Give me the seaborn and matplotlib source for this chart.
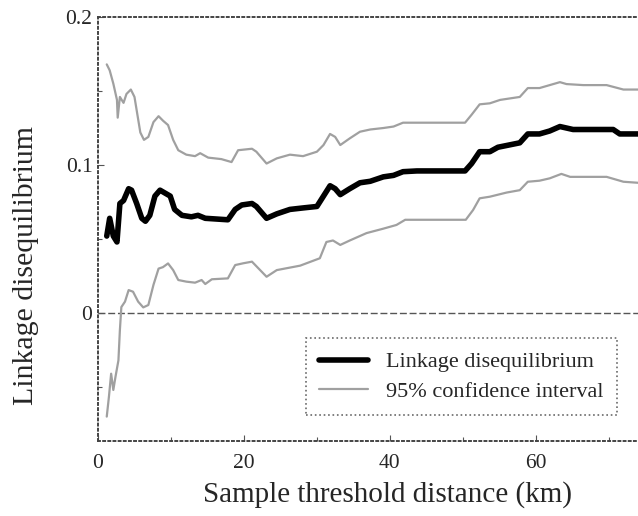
import matplotlib
matplotlib.use("Agg")
import matplotlib.pyplot as plt
import seaborn as sns

# DATA
ld_x = [1.2, 1.6, 2.1, 2.6, 3.0, 3.5, 4.2, 4.6, 5.3, 6.0, 6.5, 7.1, 7.8, 8.5, 9.2, 9.9,
        10.5, 11.5, 12.8, 13.7, 14.7, 17.8, 18.8, 19.7, 21.1, 21.7, 23.1, 24.5, 26.3,
        28.1, 30.0, 30.9, 31.8, 32.5, 33.2, 34.5, 35.9, 37.3, 39.1, 40.5, 41.8, 43.7,
        48.2, 50.3, 51.2, 52.3, 53.7, 54.8, 57.8, 58.9, 60.5, 61.9, 63.3, 65.1, 70.6,
        71.5, 74.0]
ld_y = [0.052, 0.064, 0.052, 0.048, 0.074, 0.076, 0.084, 0.083, 0.074, 0.064, 0.062,
        0.066, 0.079, 0.083, 0.081, 0.079, 0.070, 0.066, 0.065, 0.066, 0.064, 0.063,
        0.070, 0.073, 0.074, 0.072, 0.064, 0.067, 0.070, 0.071, 0.072, 0.079, 0.086,
        0.084, 0.080, 0.084, 0.088, 0.089, 0.092, 0.093, 0.0955, 0.096, 0.096, 0.096,
        0.101, 0.109, 0.109, 0.112, 0.115, 0.121, 0.121, 0.123, 0.126, 0.124, 0.124,
        0.121, 0.121]

upper_x = [1.2, 1.6, 2.1, 2.6, 2.7, 3.0, 3.5, 3.9, 4.5, 5.0, 5.3, 5.8, 6.3, 6.9, 7.6,
           8.3, 8.9, 9.6, 10.3, 11.0, 12.1, 13.3, 14.0, 15.1, 16.9, 18.3, 19.2, 21.1,
           21.7, 23.1, 24.5, 26.3, 28.1, 30.0, 30.9, 31.8, 32.5, 33.2, 34.5, 35.9, 37.3,
           39.1, 40.5, 41.8, 43.7, 48.2, 50.3, 51.2, 52.3, 53.7, 55.1, 57.8, 58.9, 60.5,
           61.9, 63.3, 64.2, 66.5, 69.7, 72.0, 74.0]
upper_y = [0.168, 0.164, 0.155, 0.144, 0.132, 0.146, 0.142, 0.148, 0.151, 0.146, 0.137,
           0.122, 0.117, 0.119, 0.129, 0.133, 0.130, 0.127, 0.117, 0.110, 0.107, 0.106,
           0.108, 0.105, 0.104, 0.102, 0.110, 0.111, 0.109, 0.101, 0.1045, 0.107, 0.106,
           0.109, 0.1135, 0.121, 0.119, 0.1135, 0.118, 0.1225, 0.124, 0.125, 0.126,
           0.1286, 0.1286, 0.1286, 0.1286, 0.134, 0.141, 0.1417, 0.144, 0.146, 0.152,
           0.152, 0.154, 0.156, 0.1547, 0.154, 0.154, 0.151, 0.151]

lower_x = [1.2, 1.5, 1.8, 2.1, 2.4, 2.8, 3.0, 3.2, 3.7, 4.2, 4.8, 5.5, 6.2, 6.9, 7.6,
           8.3, 8.9, 9.6, 10.3, 11.0, 12.1, 13.3, 14.2, 14.7, 15.6, 17.8, 18.8, 19.9,
           21.1, 23.1, 24.5, 27.7, 30.4, 31.3, 32.2, 33.2, 34.5, 36.8, 39.1, 40.9, 42.1,
           48.2, 50.4, 51.4, 52.3, 53.7, 56.0, 57.8, 58.9, 60.5, 61.9, 63.5, 64.7, 69.7,
           72.0, 74.0]
lower_y = [-0.070, -0.0565, -0.041, -0.052, -0.043, -0.032, -0.0115, 0.004, 0.0077,
           0.0155, 0.0144, 0.0077, 0.0038, 0.0054, 0.019, 0.030, 0.031, 0.0335, 0.029,
           0.0223, 0.0212, 0.0205, 0.0223, 0.0196, 0.0228, 0.0234, 0.0324, 0.0336,
           0.0347, 0.0245, 0.029, 0.032, 0.037, 0.048, 0.049, 0.046, 0.049, 0.054,
           0.057, 0.0595, 0.063, 0.063, 0.063, 0.0696, 0.0775, 0.0786, 0.0814, 0.083,
           0.0887, 0.0894, 0.091, 0.094, 0.092, 0.092, 0.0887, 0.088]

sns.set_style("ticks")
plt.rcParams['font.family'] = ['Liberation Serif', 'DejaVu Serif']

fig = plt.figure(figsize=(6.38, 5.16), dpi=100)
ax = fig.add_axes([0.1536, 0.1453, 0.8464, 0.8217])

# zero reference line
ax.axhline(0, color="#555555", linestyle=(0, (5, 2)), linewidth=1.0, zorder=1)

sns.lineplot(x=upper_x, y=upper_y, ax=ax, color="#a0a0a0", linewidth=1.6,
             label="95% confidence interval", sort=False)
sns.lineplot(x=lower_x, y=lower_y, ax=ax, color="#a0a0a0", linewidth=1.6, sort=False)
sns.lineplot(x=ld_x, y=ld_y, ax=ax, color="black", linewidth=4.0,
             label="Linkage disequilibrium", sort=False)

ax.set_xlim(0, 74)
ax.set_ylim(-0.0865, 0.2)
ax.set_xticks([0, 20, 40, 60])
ax.set_xticks([10, 30, 50, 70], minor=True)
ax.set_yticks([0, 0.1, 0.2])
ax.set_yticklabels(["0", "0.1", "0.2"])
ax.set_yticks([-0.05, 0.05, 0.15], minor=True)
ax.tick_params(axis="both", which="both", direction="in", length=4, width=0.8,
               color="#555555", labelsize=15.5)
ax.tick_params(axis="x", which="major", pad=9)
ax.tick_params(axis="y", which="major", pad=4)
ax.tick_params(axis="both", which="minor", length=3)

for side in ["left", "top", "bottom"]:
    ax.spines[side].set_linestyle(":")
    ax.spines[side].set_color("#444444")
    ax.spines[side].set_linewidth(1.4)
ax.spines["right"].set_visible(False)

ax.set_xlabel("Sample threshold distance (km)", fontsize=21)
ax.set_ylabel("Linkage disequilibrium", fontsize=21.5)
ax.xaxis.set_label_coords(0.537, -0.095)
ax.yaxis.set_label_coords(-0.11, 0.413)

handles, labels = ax.get_legend_handles_labels()
leg = ax.legend(handles[::-1], labels[::-1], loc="lower right",
                bbox_to_anchor=(0.961, 0.061), borderaxespad=0, fontsize=16,
                frameon=True, fancybox=False, handlelength=2.2, handletextpad=0.8,
                borderpad=0.6, labelspacing=0.4)
leg.get_frame().set_edgecolor("#444444")
leg.get_frame().set_linestyle(":")
leg.get_frame().set_linewidth(1.2)

fig.savefig("out.png", dpi=100)
